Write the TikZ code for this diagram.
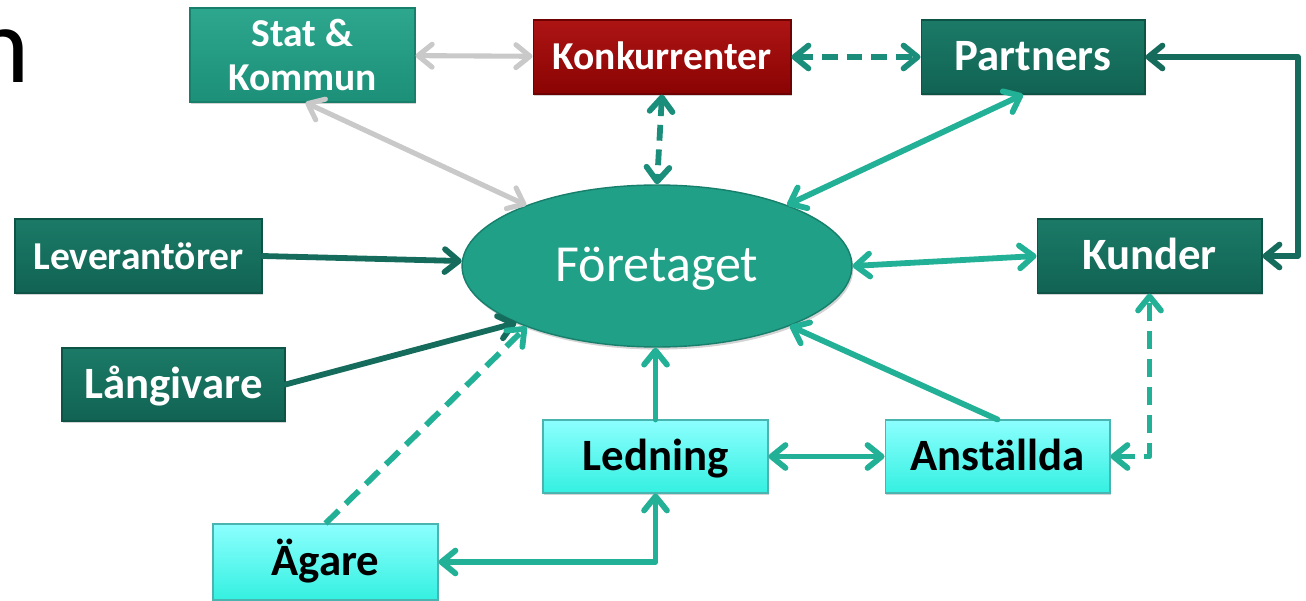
\documentclass[tikz,border=0pt]{standalone}
\usepackage{fontspec}
\setmainfont{Carlito}
\usetikzlibrary{arrows.meta,calc,shapes.geometric,shadows}

% box fills
\definecolor{dkT}{HTML}{1B7A67}
\definecolor{dkB}{HTML}{116353}
\definecolor{dkE}{HTML}{0E5446}
\definecolor{stT}{HTML}{2DA78E}
\definecolor{stB}{HTML}{1C8F78}
\definecolor{stE}{HTML}{187F6B}
\definecolor{rdT}{HTML}{AD1414}
\definecolor{rdB}{HTML}{8A0303}
\definecolor{rdE}{HTML}{6E0202}
\definecolor{cyT}{HTML}{8CFFFF}
\definecolor{cyB}{HTML}{34F0E0}
\definecolor{cyE}{HTML}{4AB4B0}
\definecolor{ovF}{HTML}{1FA087}
\definecolor{ovE}{HTML}{177F6C}
% connector colours
\definecolor{lnGray}{HTML}{C9C9C9}
\definecolor{lnLight}{HTML}{22B197}
\definecolor{lnMid}{HTML}{1B8E7B}
\definecolor{lnDark}{HTML}{156C5C}

\begin{document}
\begin{tikzpicture}[x=0.02cm,y=-0.02cm,
  >={Straight Barb[length=8pt,width=13pt,round]},
  boxbase/.style={rectangle,inner sep=0pt,minimum width=4.5cm,minimum height=1.48cm,
    align=center,line width=0.6pt,
    drop shadow={shadow xshift=0.8pt,shadow yshift=-1.2pt,opacity=0.35}},
  bigfont/.style={font=\fontsize{25.5}{28}\selectfont\bfseries,text height=18pt,text depth=2.5pt},
  midfont/.style={font=\fontsize{22.5}{25.5}\selectfont\bfseries,text height=16.5pt,text depth=1.7pt},
  twoline/.style={font=\fontsize{22.5}{25.5}\selectfont\bfseries},
  darkbox/.style={boxbase,top color=dkT,bottom color=dkB,draw=dkE,text=white},
  statbox/.style={boxbase,top color=stT,bottom color=stB,draw=stE,text=white},
  redbox/.style={boxbase,top color=rdT,bottom color=rdB,draw=rdE,text=white},
  cyanbox/.style={boxbase,top color=cyT,bottom color=cyB,draw=cyE,text=black,bigfont},
  oval/.style={ellipse,inner sep=0pt,fill=ovF,draw=ovE,line width=0.8pt,text=white,
    font=\fontsize{29.6}{32}\selectfont,text height=21pt,text depth=3pt,
    drop shadow={shadow xshift=0.8pt,shadow yshift=-1.5pt,opacity=0.35}},
  conn/.style={line width=3.3pt,line cap=round,line join=round},
  grayconn/.style={conn,color=lnGray,line width=2.9pt},
  lightconn/.style={conn,color=lnLight},
  darkconn/.style={conn,color=lnDark},
  middash/.style={conn,color=lnMid,line cap=butt,dash pattern=on 9pt off 5pt},
  lightdash/.style={conn,color=lnLight,line cap=butt,dash pattern=on 10.5pt off 5.5pt}
]
\useasboundingbox (0,0) rectangle (1306,601);

% tail of the slide title
\begin{scope}
  \clip (0,0) rectangle (1306,601);
  \node[anchor=base east,inner sep=0pt,font=\fontsize{62}{64}\selectfont] (title) at (30,83) {n};
\end{scope}

% central node
\node[oval,minimum width=7.8cm,minimum height=3.24cm] (fore) at (657,266) {Företaget};

% surrounding actors
\node[statbox,twoline,minimum height=1.88cm] (stat) at (302.5,55) {Stat \&\\Kommun};
\node[redbox,midfont,minimum width=5.16cm] (konk) at (662,57) {Konkurrenter};
\node[darkbox,bigfont,minimum width=4.48cm] (partners) at (1033,57) {Partners};
\node[darkbox,midfont,minimum width=4.94cm] (lev) at (138.5,256) {Leverantörer};
\node[darkbox,bigfont,minimum width=4.46cm,minimum height=1.46cm] (lang) at (173.5,384.5) {Långivare};
\node[darkbox,bigfont] (kunder) at (1149.5,256) {Kunder};
\node[cyanbox,minimum height=1.46cm] (ledning) at (655.5,456.5) {Ledning};
\node[cyanbox,minimum height=1.46cm] (anst) at (997.5,456.5) {Anställda};
\node[cyanbox,minimum height=1.52cm] (agare) at (325.5,562) {Ägare};

\coordinate (pk) at (1298,0);

% relations
\draw[grayconn,<->] (stat) -- (konk);
\draw[grayconn,<->] ($(stat.south)+(3,0)$) -- (fore);
\draw[middash,<->] (konk.south) -- (fore.north);
\draw[middash,<->] (konk) -- (partners);
\draw[lightconn,<->] ($(partners.south)+(-10,0)$) -- (fore);
\draw[darkconn,<->] (partners.east) -- (partners.east -| pk) -- (kunder.east -| pk) -- (kunder.east);
\draw[darkconn,->] (lev.east) -- (fore);
\draw[darkconn,->] (lang.east) -- (fore.202);
\draw[lightdash,->] (agare.north) -- (fore.205);
\draw[lightconn,<->] (fore.east) -- (kunder.west);
\draw[lightconn,->] (ledning.north) -- (ledning.north |- fore.south);
\draw[lightconn,->] (anst.north) -- (fore);
\draw[lightconn,<->] (ledning) -- (anst);
\draw[lightconn,<->] (agare.east) -| (ledning.south);
\draw[lightdash,<->] (anst.east) -| (kunder.south);
\end{tikzpicture}
\end{document}
